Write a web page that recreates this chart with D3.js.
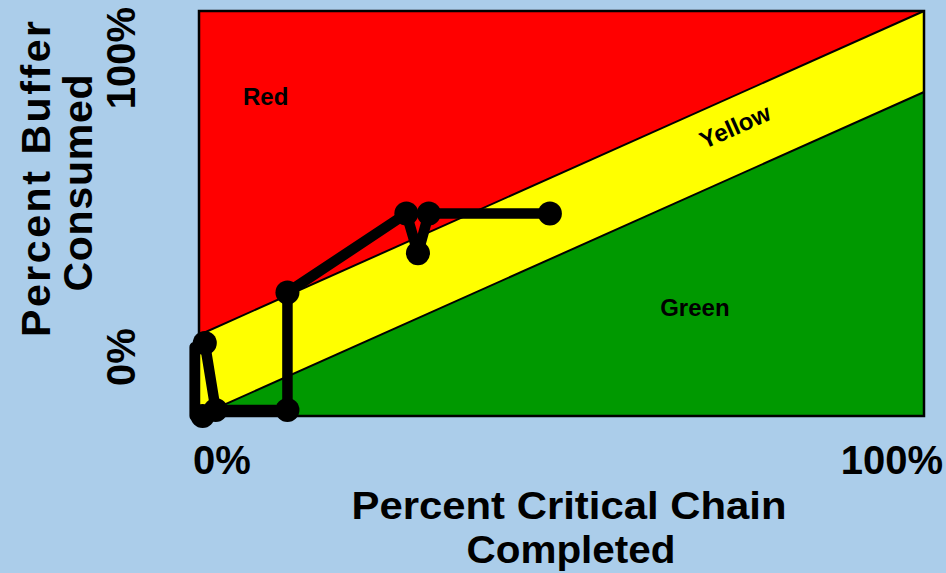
<!DOCTYPE html>
<html>
<head>
<meta charset="utf-8">
<script src="https://cdn.jsdelivr.net/npm/d3@7"></script>
<style>
  html, body { margin: 0; padding: 0; background: #abcdea; }
  svg { display: block; font-family: Arial, "Liberation Sans", sans-serif; font-weight: bold; }
</style>
</head>
<body>
<svg id="chart" width="946" height="573"></svg>
<script>
// Buffer fever chart: percent of critical chain completed vs. percent buffer consumed
const xDomain = [0, 100];
const yDomain = [0, 100];

// Zone boundaries (percent buffer consumed at 0% and 100% completion)
const redLine = [[0, 20], [100, 100]];
const greenLine = [[0, 0], [100, 80]];

// Project progress history
const progressX = [0.5, -0.6, -0.6, 0.8, 2.3, 12.2, 12.2, 28.6, 30.2, 31.7, 48.4];
const progressY = [0, 0, 17, 18, 1.5, 1.5, 30.5, 50, 40.2, 50, 50];
const markerIdx = [0, 3, 4, 5, 6, 7, 8, 9, 10];

const xTickLabels = ["0%", "100%"];
const yTickLabels = ["0%", "100%"];
const zoneNames = ["Red", "Yellow", "Green"];

const svg = d3.select("#chart");
const plot = { left: 199, right: 924, top: 11, bottom: 416 };

const x = d3.scaleLinear().domain(xDomain).range([plot.left, plot.right]);
const y = d3.scaleLinear().domain(yDomain).range([plot.bottom, plot.top]);

const g = svg.append("g");

// Zone fills
const corner = (px, py) => [x(px), y(py)];
const redPoly = [corner(0, 100), corner(100, 100), corner(...redLine[1]), corner(...redLine[0])];
const yellowPoly = [corner(...redLine[0]), corner(...redLine[1]), corner(...greenLine[1]), corner(...greenLine[0])];
const greenPoly = [corner(...greenLine[0]), corner(...greenLine[1]), corner(100, 0), corner(0, 0)];

g.append("polygon").attr("points", redPoly.join(" ")).attr("fill", "#ff0000");
g.append("polygon").attr("points", yellowPoly.join(" ")).attr("fill", "#ffff00");
g.append("polygon").attr("points", greenPoly.join(" ")).attr("fill", "#009900");

// Zone boundary lines
[redLine, greenLine].forEach(l => {
  g.append("line")
    .attr("x1", x(l[0][0])).attr("y1", y(l[0][1]))
    .attr("x2", x(l[1][0])).attr("y2", y(l[1][1]))
    .attr("stroke", "#000").attr("stroke-width", 2);
});

// Plot frame
g.append("rect")
  .attr("x", x(0)).attr("y", y(100))
  .attr("width", x(100) - x(0)).attr("height", y(0) - y(100))
  .attr("fill", "none").attr("stroke", "#000").attr("stroke-width", 2.5);

// Zone labels
g.append("text").attr("x", x(9.2)).attr("y", y(76.8)).attr("text-anchor", "middle")
  .attr("font-size", 24).text(zoneNames[0]);
g.append("text").attr("transform", `translate(${x(74.4)},${y(69.6)}) rotate(-24)`)
  .attr("text-anchor", "middle").attr("font-size", 24).text(zoneNames[1]);
g.append("text").attr("x", x(68.4)).attr("y", y(24.7)).attr("text-anchor", "middle")
  .attr("font-size", 24).text(zoneNames[2]);

// Progress path
const pts = progressX.map((v, i) => [v, progressY[i]]);
const line = d3.line().x(d => x(d[0])).y(d => y(d[1]));
g.append("path").attr("d", line(pts))
  .attr("fill", "none").attr("stroke", "#000").attr("stroke-width", 10.5)
  .attr("stroke-linejoin", "round").attr("stroke-linecap", "butt");
g.selectAll("circle.pt").data(markerIdx.map(i => pts[i])).join("circle")
  .attr("class", "pt")
  .attr("cx", d => x(d[0])).attr("cy", d => y(d[1])).attr("r", 12)
  .attr("fill", "#000");

// Tick labels
const xTickOffset = [23, -32];
g.selectAll("text.xt").data(xTickLabels).join("text").attr("class", "xt")
  .attr("x", (d, i) => x(xDomain[i]) + xTickOffset[i])
  .attr("y", 474).attr("text-anchor", "middle").attr("font-size", 40).text(d => d);

const yTickOffset = [-59, 47];
g.selectAll("text.yt").data(yTickLabels).join("text").attr("class", "yt")
  .attr("transform", (d, i) => `translate(135,${y(yDomain[i]) + yTickOffset[i]}) rotate(-90)`)
  .attr("text-anchor", "middle").attr("font-size", 40).text(d => d);

// Axis titles
g.append("text").attr("x", 569).attr("y", 519).attr("text-anchor", "middle").attr("font-size", 39)
  .attr("textLength", 435).attr("lengthAdjust", "spacingAndGlyphs").text("Percent Critical Chain");
g.append("text").attr("x", 571).attr("y", 563).attr("text-anchor", "middle").attr("font-size", 39)
  .attr("textLength", 209).attr("lengthAdjust", "spacingAndGlyphs").text("Completed");

const ytTitle = g.append("g").attr("transform", "translate(0,179) rotate(-90)");
ytTitle.append("text").attr("x", 0).attr("y", 50).attr("text-anchor", "middle").attr("font-size", 41)
  .attr("textLength", 316).attr("lengthAdjust", "spacing").text("Percent Buffer");
ytTitle.append("text").attr("x", -4).attr("y", 92).attr("text-anchor", "middle").attr("font-size", 41)
  .attr("textLength", 217).attr("lengthAdjust", "spacing").text("Consumed");
</script>
</body>
</html>
